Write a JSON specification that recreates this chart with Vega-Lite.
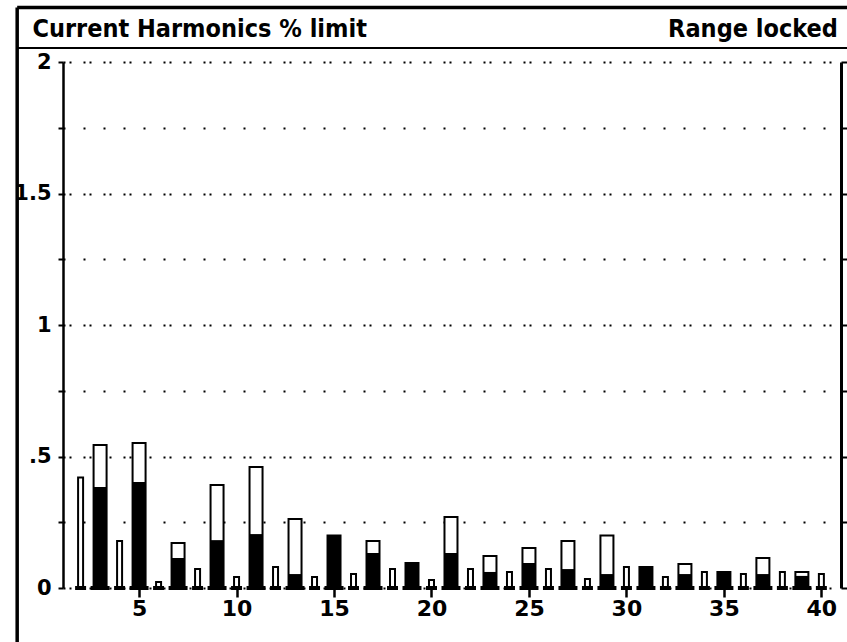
{
  "$schema": "https://vega.github.io/schema/vega-lite/v6.json",
  "width": 778,
  "height": 526,
  "autosize": {"type": "none"},
  "padding": {"left": 63, "top": 62, "right": 6, "bottom": 54},
  "background": "white",
  "config": {
    "view": {"stroke": null},
    "axis": {"labelColor": "black", "tickColor": "black", "domainColor": "black", "gridColor": "black"}
  },
  "data": {
    "values": [
      {"h": 2, "total": 0.42, "black": 0, "kind": "even"},
      {"h": 3, "total": 0.544, "black": 0.384, "kind": "odd"},
      {"h": 4, "total": 0.179, "black": 0, "kind": "even"},
      {"h": 5, "total": 0.551, "black": 0.403, "kind": "odd"},
      {"h": 6, "total": 0.023, "black": 0, "kind": "even"},
      {"h": 7, "total": 0.171, "black": 0.114, "kind": "odd"},
      {"h": 8, "total": 0.072, "black": 0, "kind": "even"},
      {"h": 9, "total": 0.392, "black": 0.182, "kind": "odd"},
      {"h": 10, "total": 0.042, "black": 0, "kind": "even"},
      {"h": 11, "total": 0.46, "black": 0.205, "kind": "odd"},
      {"h": 12, "total": 0.08, "black": 0, "kind": "even"},
      {"h": 13, "total": 0.262, "black": 0.053, "kind": "odd"},
      {"h": 14, "total": 0.042, "black": 0, "kind": "even"},
      {"h": 15, "total": 0.2, "black": 0.2, "kind": "odd"},
      {"h": 16, "total": 0.053, "black": 0, "kind": "even"},
      {"h": 17, "total": 0.179, "black": 0.133, "kind": "odd"},
      {"h": 18, "total": 0.072, "black": 0, "kind": "even"},
      {"h": 19, "total": 0.095, "black": 0.095, "kind": "odd"},
      {"h": 20, "total": 0.03, "black": 0, "kind": "even"},
      {"h": 21, "total": 0.27, "black": 0.133, "kind": "odd"},
      {"h": 22, "total": 0.072, "black": 0, "kind": "even"},
      {"h": 23, "total": 0.122, "black": 0.061, "kind": "odd"},
      {"h": 24, "total": 0.061, "black": 0, "kind": "even"},
      {"h": 25, "total": 0.152, "black": 0.095, "kind": "odd"},
      {"h": 26, "total": 0.072, "black": 0, "kind": "even"},
      {"h": 27, "total": 0.179, "black": 0.072, "kind": "odd"},
      {"h": 28, "total": 0.034, "black": 0, "kind": "even"},
      {"h": 29, "total": 0.2, "black": 0.053, "kind": "odd"},
      {"h": 30, "total": 0.08, "black": 0, "kind": "even"},
      {"h": 31, "total": 0.08, "black": 0.08, "kind": "odd"},
      {"h": 32, "total": 0.042, "black": 0, "kind": "even"},
      {"h": 33, "total": 0.091, "black": 0.053, "kind": "odd"},
      {"h": 34, "total": 0.061, "black": 0, "kind": "even"},
      {"h": 35, "total": 0.061, "black": 0.061, "kind": "odd"},
      {"h": 36, "total": 0.053, "black": 0, "kind": "even"},
      {"h": 37, "total": 0.114, "black": 0.053, "kind": "odd"},
      {"h": 38, "total": 0.061, "black": 0, "kind": "even"},
      {"h": 39, "total": 0.061, "black": 0.046, "kind": "odd"},
      {"h": 40, "total": 0.053, "black": 0, "kind": "even"}
    ]
  },
  "resolve": {"axis": {"y": "independent"}},
  "layer": [
    {
      "mark": {"type": "bar", "fill": "white", "stroke": "black", "strokeWidth": 2, "clip": false},
      "encoding": {
        "x": {
          "field": "h", "type": "quantitative",
          "scale": {"domain": [1.354, 40.75], "nice": false, "zero": false},
          "axis": {
            "values": [5, 10, 15, 20, 25, 30, 35, 40],
            "domain": false, "grid": false, "ticks": true, "tickSize": 9, "tickWidth": 2.5,
            "labelFont": "DejaVu Sans", "labelFontWeight": "bold", "labelFontSize": 22,
            "labelPadding": 1, "labelFlush": false, "title": null
          }
        },
        "y": {
          "field": "total", "type": "quantitative",
          "scale": {"domain": [0, 2], "nice": false, "zero": true},
          "axis": {
            "orient": "left",
            "values": [0, 0.25, 0.5, 0.75, 1, 1.25, 1.5, 1.75, 2],
            "domain": true, "domainWidth": 2.5,
            "ticks": true, "tickSize": 5, "tickWidth": 2,
            "grid": true, "gridWidth": 2,
            "gridDash": {"condition": {"test": "datum.value % 0.5 === 0", "value": [2, 4, 2, 12]}, "value": [2, 18]},
            "labelExpr": "datum.value === 0.5 ? '.5' : (datum.value % 0.5 === 0 ? format(datum.value, '~g') : '')",
            "labelFont": "DejaVu Sans", "labelFontWeight": "bold", "labelFontSize": 21,
            "labelPadding": 7, "title": null
          }
        },
        "size": {"condition": {"test": "datum.kind === 'odd'", "value": 13}, "value": 5}
      }
    },
    {
      "mark": {"type": "bar", "fill": "black", "clip": false},
      "transform": [{"filter": "datum.black > 0"}],
      "encoding": {
        "x": {"field": "h", "type": "quantitative"},
        "y": {
          "field": "black", "type": "quantitative",
          "axis": {
            "orient": "right",
            "values": [0, 0.25, 0.5, 0.75, 1, 1.25, 1.5, 1.75, 2],
            "domain": true, "domainWidth": 3,
            "ticks": true, "tickSize": 6, "tickWidth": 2,
            "grid": false, "labels": false, "title": null
          }
        },
        "size": {"condition": {"test": "datum.kind === 'odd'", "value": 13}, "value": 5}
      }
    },
    {
      "mark": {"type": "tick", "orient": "horizontal", "color": "black", "thickness": 4, "opacity": 1, "clip": false},
      "encoding": {
        "x": {"field": "h", "type": "quantitative"},
        "y": {"datum": 0, "type": "quantitative", "axis": null},
        "size": {"condition": {"test": "datum.kind === 'odd'", "value": 19}, "value": 11}
      }
    },
    {
      "data": {"values": [{}]},
      "layer": [
        {
          "mark": {"type": "rule", "color": "black", "strokeWidth": 3.5, "clip": false},
          "encoding": {
            "x": {"datum": -1.253, "type": "quantitative"},
            "y": {"datum": -0.3, "type": "quantitative", "axis": null},
            "y2": {"datum": 2.207}
          }
        },
        {
          "mark": {"type": "rule", "color": "black", "strokeWidth": 3.5, "clip": false},
          "encoding": {
            "x": {"datum": -1.253, "type": "quantitative"},
            "x2": {"datum": 42},
            "y": {"datum": 2.207, "type": "quantitative", "axis": null}
          }
        },
        {
          "mark": {"type": "rule", "color": "black", "strokeWidth": 2, "clip": false},
          "encoding": {
            "x": {"datum": -1.253, "type": "quantitative"},
            "x2": {"datum": 42},
            "y": {"datum": 2.053, "type": "quantitative", "axis": null}
          }
        },
        {
          "mark": {"type": "text", "align": "left", "baseline": "middle", "font": "DejaVu Sans Condensed", "fontWeight": "bold", "fontSize": 25, "color": "black", "clip": false},
          "encoding": {
            "x": {"datum": -0.469, "type": "quantitative"},
            "y": {"datum": 2.1255, "type": "quantitative", "axis": null},
            "text": {"value": "Current Harmonics % limit"}
          }
        },
        {
          "mark": {"type": "text", "align": "right", "baseline": "middle", "font": "DejaVu Sans Condensed", "fontWeight": "bold", "fontSize": 25, "color": "black", "clip": false},
          "encoding": {
            "x": {"datum": 40.85, "type": "quantitative"},
            "y": {"datum": 2.1255, "type": "quantitative", "axis": null},
            "text": {"value": "Range locked"}
          }
        }
      ]
    }
  ]
}
